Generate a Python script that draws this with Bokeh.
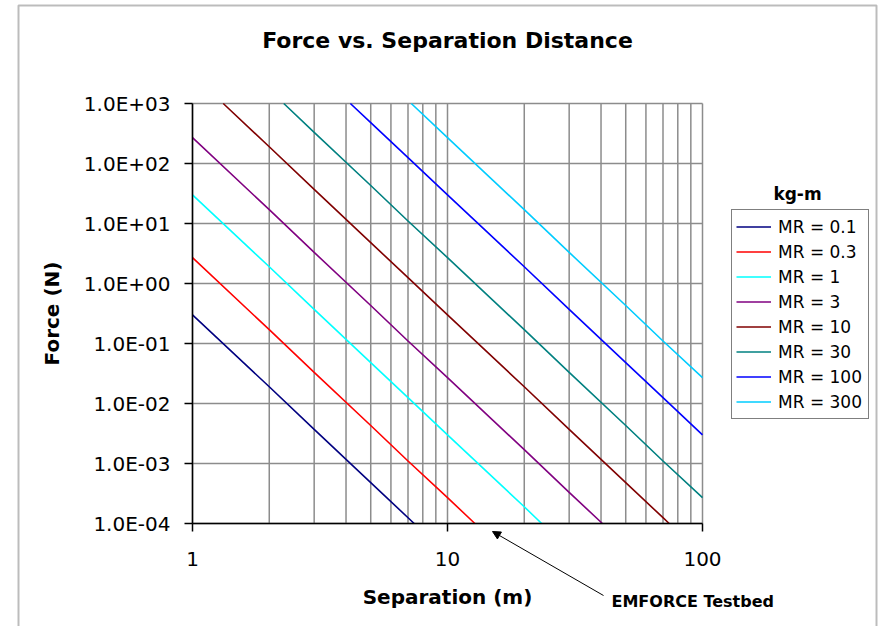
from bokeh.plotting import figure
from bokeh.models import (FixedTicker, CustomJSTickFormatter, Legend, LegendItem,
                          Label, Arrow, NormalHead, BoxAnnotation)
from bokeh.embed import file_html
from bokeh.resources import INLINE

# ---------------- data ----------------
MR_LABELS = ["MR = 0.1", "MR = 0.3", "MR = 1", "MR = 3",
             "MR = 10", "MR = 30", "MR = 100", "MR = 300"]
# separation (m) and force (N) along each curve, from where it enters to where it leaves the plot
SEP_MR_0_1 = [1, 2, 3, 5, 7.4]
FORCE_MR_0_1 = [0.30, 0.019, 0.0037, 4.8e-4, 1.0e-4]
SEP_MR_0_3 = [1, 2, 3, 5, 7, 10, 12.8]
FORCE_MR_0_3 = [2.7, 0.17, 0.033, 0.0043, 0.0011, 2.7e-4, 1.0e-4]
SEP_MR_1 = [1, 2, 3, 5, 7, 10, 20, 23.4]
FORCE_MR_1 = [30, 1.9, 0.37, 0.048, 0.0125, 0.0030, 1.9e-4, 1.0e-4]
SEP_MR_3 = [1, 2, 3, 5, 7, 10, 20, 30, 40.5]
FORCE_MR_3 = [270, 17, 3.3, 0.43, 0.11, 0.027, 0.0017, 3.3e-4, 1.0e-4]
SEP_MR_10 = [1.32, 2, 3, 5, 7, 10, 20, 30, 50, 70, 74]
FORCE_MR_10 = [1000, 190, 37, 4.8, 1.25, 0.30, 0.019, 0.0037, 4.8e-4, 1.25e-4, 1.0e-4]
SEP_MR_30 = [2.28, 3, 5, 7, 10, 20, 30, 50, 70, 100]
FORCE_MR_30 = [1000, 330, 43, 11, 2.7, 0.17, 0.033, 0.0043, 0.0011, 2.7e-4]
SEP_MR_100 = [4.16, 5, 7, 10, 20, 30, 50, 70, 100]
FORCE_MR_100 = [1000, 480, 125, 30, 1.9, 0.37, 0.048, 0.0125, 0.0030]
SEP_MR_300 = [7.21, 10, 20, 30, 50, 70, 100]
FORCE_MR_300 = [1000, 270, 17, 3.3, 0.43, 0.11, 0.027]
SERIES = [(SEP_MR_0_1, FORCE_MR_0_1), (SEP_MR_0_3, FORCE_MR_0_3), (SEP_MR_1, FORCE_MR_1),
          (SEP_MR_3, FORCE_MR_3), (SEP_MR_10, FORCE_MR_10), (SEP_MR_30, FORCE_MR_30),
          (SEP_MR_100, FORCE_MR_100), (SEP_MR_300, FORCE_MR_300)]
COLORS = ["#000080", "#FF0000", "#00FFFF", "#800080",
          "#800000", "#008080", "#0000FF", "#00CCFF"]

X_MIN, X_MAX = 1, 100
Y_MIN, Y_MAX = 1e-4, 1e3
X_TICKS = [1, 10, 100]
X_TICK_LABELS = ["1", "10", "100"]
X_MINOR = [2, 3, 4, 5, 6, 7, 8, 9, 20, 30, 40, 50, 60, 70, 80, 90]
Y_TICKS = [1e-4, 1e-3, 1e-2, 1e-1, 1e0, 1e1, 1e2, 1e3]
Y_TICK_LABELS = ["1.0E-04", "1.0E-03", "1.0E-02", "1.0E-01",
                 "1.0E+00", "1.0E+01", "1.0E+02", "1.0E+03"]

TITLE = "Force vs. Separation Distance"
X_LABEL = "Separation (m)"
Y_LABEL = "Force (N)"
LEGEND_TITLE = "kg-m"
NOTE = "EMFORCE Testbed"

FONT = "DejaVu Sans"
GRID = "#8c8c8c"

# ---------------- layout (pixels) ----------------
W, H = 878, 626
FL, FR, FT, FB = 192, 702, 103, 523   # plot-area edges
BL, BR, BT = 18, 876, 5               # outer chart border
TICK = 8


def px_x(px):
    return 10 ** ((px - FL) / ((FR - FL) / 2.0))


def px_y(py):
    return 10 ** (3 - (py - FT) / ((FB - FT) / 7.0))


# The frame covers the whole canvas so that nothing drawn outside the plot area is clipped.
p = figure(width=W, height=H, x_axis_type="log", y_axis_type="log",
           x_range=(px_x(0), px_x(W)), y_range=(px_y(H), px_y(0)),
           output_backend="svg", toolbar_location=None,
           min_border_left=0, min_border_right=0, min_border_top=0, min_border_bottom=0)
p.background_fill_color = "white"
p.border_fill_color = "white"
p.outline_line_color = None
p.xgrid.visible = False
p.ygrid.visible = False

# grid lines (also form the grey plot-area border), limited to the plot area
vx = X_TICKS + X_MINOR
p.segment(x0=vx, x1=vx, y0=[Y_MIN] * len(vx), y1=[Y_MAX] * len(vx),
          line_color=GRID, line_width=1.5)
p.segment(x0=[X_MIN] * len(Y_TICKS), x1=[X_MAX] * len(Y_TICKS), y0=Y_TICKS, y1=Y_TICKS,
          line_color=GRID, line_width=1.5)

renderers = []
for (xs, ys), c in zip(SERIES, COLORS):
    r = p.line(xs, ys, line_color=c, line_width=1.6)
    renderers.append(r)

# tick marks (outside the plot area)
p.segment(x0=[px_x(FL - TICK)] * len(Y_TICKS), x1=[X_MIN] * len(Y_TICKS), y0=Y_TICKS, y1=Y_TICKS,
          line_color="black", line_width=1.5)
p.segment(x0=X_TICKS, x1=X_TICKS, y0=[Y_MIN] * len(X_TICKS), y1=[px_y(FB + TICK)] * len(X_TICKS),
          line_color="black", line_width=1.5)

# axes
p.xaxis.ticker = FixedTicker(ticks=X_TICKS, minor_ticks=X_MINOR)
p.yaxis.ticker = FixedTicker(ticks=Y_TICKS, minor_ticks=[])
fmt_code = """
let best = 0;
for (let i = 0; i < tvals.length; i++) {
  if (Math.abs(Math.log10(tick) - Math.log10(tvals[i])) <
      Math.abs(Math.log10(tick) - Math.log10(tvals[best]))) best = i;
}
return tlabs[best];
"""
p.xaxis.formatter = CustomJSTickFormatter(args=dict(tvals=X_TICKS, tlabs=X_TICK_LABELS), code=fmt_code)
p.yaxis.formatter = CustomJSTickFormatter(args=dict(tvals=Y_TICKS, tlabs=Y_TICK_LABELS), code=fmt_code)
p.xaxis.fixed_location = Y_MIN
p.yaxis.fixed_location = X_MIN
p.xaxis.bounds = (X_MIN, X_MAX)
p.yaxis.bounds = (Y_MIN, Y_MAX)

for ax in (p.xaxis, p.yaxis):
    ax.axis_line_color = "black"
    ax.axis_line_width = 1.5
    ax.major_tick_out = 0
    ax.major_tick_in = 0
    ax.minor_tick_out = 0
    ax.minor_tick_in = 0
    ax.major_label_text_font = FONT
    ax.major_label_text_font_size = "20px"
    ax.major_label_text_color = "black"
    ax.axis_label_text_font = FONT
    ax.axis_label_text_font_size = "20px"
    ax.axis_label_text_font_style = "bold"
    ax.axis_label_text_color = "black"
p.xaxis.major_label_standoff = 20 + TICK
p.yaxis.major_label_standoff = 14 + TICK
p.xaxis.axis_label = X_LABEL
p.yaxis.axis_label = Y_LABEL
p.xaxis.axis_label_standoff = 16
p.yaxis.axis_label_standoff = 17

# legend
items = [LegendItem(label=lab, renderers=[r]) for lab, r in zip(MR_LABELS, renderers)]
legend = Legend(items=items, location=(731, H - 419), padding=4, spacing=0,
                glyph_width=35, glyph_height=25, label_height=25, label_width=86,
                label_standoff=7, label_text_font=FONT, label_text_font_size="17px",
                label_text_color="black", border_line_color="black",
                border_line_width=1, background_fill_color="white",
                background_fill_alpha=1.0, margin=0)
p.add_layout(legend)

p.add_layout(Label(x=px_x(797), y=px_y(193), text=LEGEND_TITLE, text_align="center",
                   text_baseline="middle", text_font=FONT, text_font_size="17px",
                   text_font_style="bold", text_color="black"))

# title
p.add_layout(Label(x=px_x(447), y=px_y(40), text=TITLE, text_align="center",
                   text_baseline="middle", text_font=FONT, text_font_size="22px",
                   text_font_style="bold", text_color="black"))

# annotation
p.add_layout(Arrow(x_start=px_x(603), y_start=px_y(595), x_end=px_x(492), y_end=px_y(531),
                   line_color="black", line_width=1,
                   end=NormalHead(size=8, fill_color="black", line_color="black")))
p.add_layout(Label(x=px_x(611), y=px_y(601), text=NOTE, text_align="left",
                   text_baseline="middle", text_font=FONT, text_font_size="16px",
                   text_font_style="bold", text_color="black"))

# chart-area border
p.add_layout(BoxAnnotation(left=px_x(BL), right=px_x(BR), top=px_y(BT), bottom=px_y(H + 40),
                           fill_alpha=0, line_color="#222222", line_width=2))

open("out.html", "w").write(file_html(p, INLINE))
